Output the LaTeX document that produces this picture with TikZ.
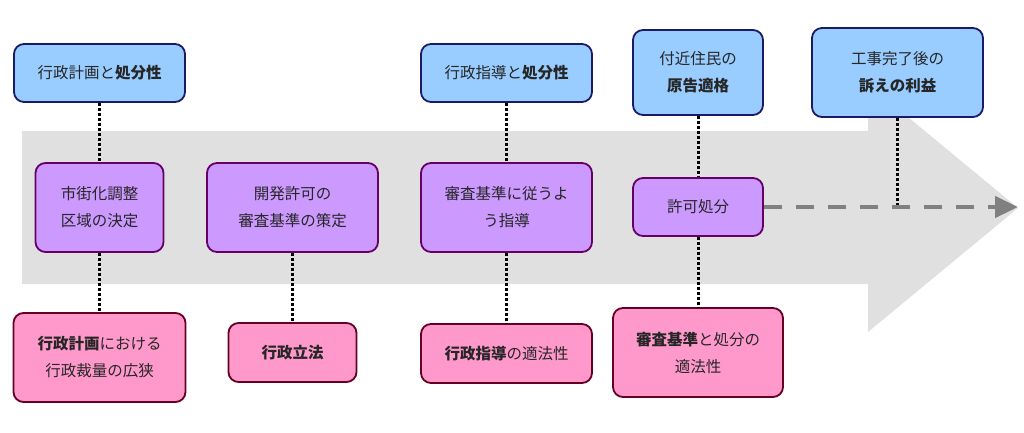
\documentclass[tikz,border=0pt]{standalone}
\usepackage{fontspec}
\setmainfont{Noto Sans CJK JP}
\usetikzlibrary{arrows.meta}
\definecolor{bigarrow}{HTML}{E0E0E0}
\definecolor{bluefill}{HTML}{99CCFF}
\definecolor{blueline}{HTML}{1A1A66}
\definecolor{purpfill}{HTML}{CC99FF}
\definecolor{purpline}{HTML}{660066}
\definecolor{pinkfill}{HTML}{FF99CC}
\definecolor{pinkline}{HTML}{660022}
\definecolor{txt}{HTML}{262626}
\definecolor{dashgray}{HTML}{808080}
\tikzset{
  box/.style={rounded corners=10pt, line width=1.8pt, align=center, inner sep=0pt,
    text=txt, font=\fontsize{15.5pt}{27pt}\selectfont},
  bluebox/.style={box, draw=blueline, fill=bluefill},
  purpbox/.style={box, draw=purpline, fill=purpfill},
  pinkbox/.style={box, draw=pinkline, fill=pinkfill},
  link/.style={draw=black, line width=3pt, dash pattern=on 3pt off 2pt},
  timeline/.style={draw=dashgray, line width=4.5pt, dash pattern=on 18pt off 14pt,
    -{Triangle[length=23pt,width=21pt]}}
}
\begin{document}
\begin{tikzpicture}[x=1pt,y=-1pt]
\useasboundingbox (0,0) rectangle (1024,432);
% big background arrow
\fill[bigarrow] (22,131) -- (868,131) -- (868,84) -- (1018,208) -- (868,332) -- (868,284) -- (22,284) -- cycle;

% column 1
\node[bluebox, minimum width=171pt, minimum height=58pt] (b1) at (99.5,73) {行政計画と\textbf{処分性}};
\node[purpbox, minimum width=128pt, minimum height=89pt] (p1) at (99.5,207.5) {市街化調整\\区域の決定};
\node[pinkbox, minimum width=172pt, minimum height=89pt] (k1) at (99.5,357.5) {\textbf{行政計画}における\\行政裁量の広狭};
% column 2
\node[purpbox, minimum width=171pt, minimum height=89pt] (p2) at (292.5,207.5) {開発許可の\\審査基準の策定};
\node[pinkbox, minimum width=128pt, minimum height=59pt] (k2) at (292.5,352.5) {\textbf{行政立法}};
% column 3
\node[bluebox, minimum width=171pt, minimum height=58pt] (b3) at (506.5,73) {行政指導と\textbf{処分性}};
\node[purpbox, minimum width=171pt, minimum height=89pt] (p3) at (506.5,207.5) {審査基準に従うよ\\う指導};
\node[pinkbox, minimum width=171pt, minimum height=59pt] (k3) at (506.5,353.5) {\textbf{行政指導}の適法性};
% column 4
\node[bluebox, minimum width=130pt, minimum height=85pt] (b4) at (698,72.5) {付近住民の\\\textbf{原告適格}};
\node[purpbox, minimum width=130pt, minimum height=58pt] (p4) at (698,207) {許可処分};
\node[pinkbox, minimum width=170pt, minimum height=89pt] (k4) at (698,352.5) {\textbf{審査基準}と処分の\\適法性};
% column 5
\node[bluebox, minimum width=171pt, minimum height=89pt] (b5) at (897.5,72.5) {工事完了後の\\\textbf{訴えの利益}};
\coordinate (t5) at (897.5,205);
\coordinate (tend) at (1018,207);

% dotted links
\draw[link] (b1.south) -- (p1.north);
\draw[link] (p1.south) -- (k1.north);
\draw[link] (p2.south) -- (k2.north);
\draw[link] (b3.south) -- (p3.north);
\draw[link] (p3.south) -- (k3.north);
\draw[link] (b4.south) -- (p4.north);
\draw[link] (p4.south) -- (k4.north);
\draw[link] (b5.south) -- (t5);

% dashed timeline
\draw[timeline] (p4.east) -- (tend);
\end{tikzpicture}
\end{document}
